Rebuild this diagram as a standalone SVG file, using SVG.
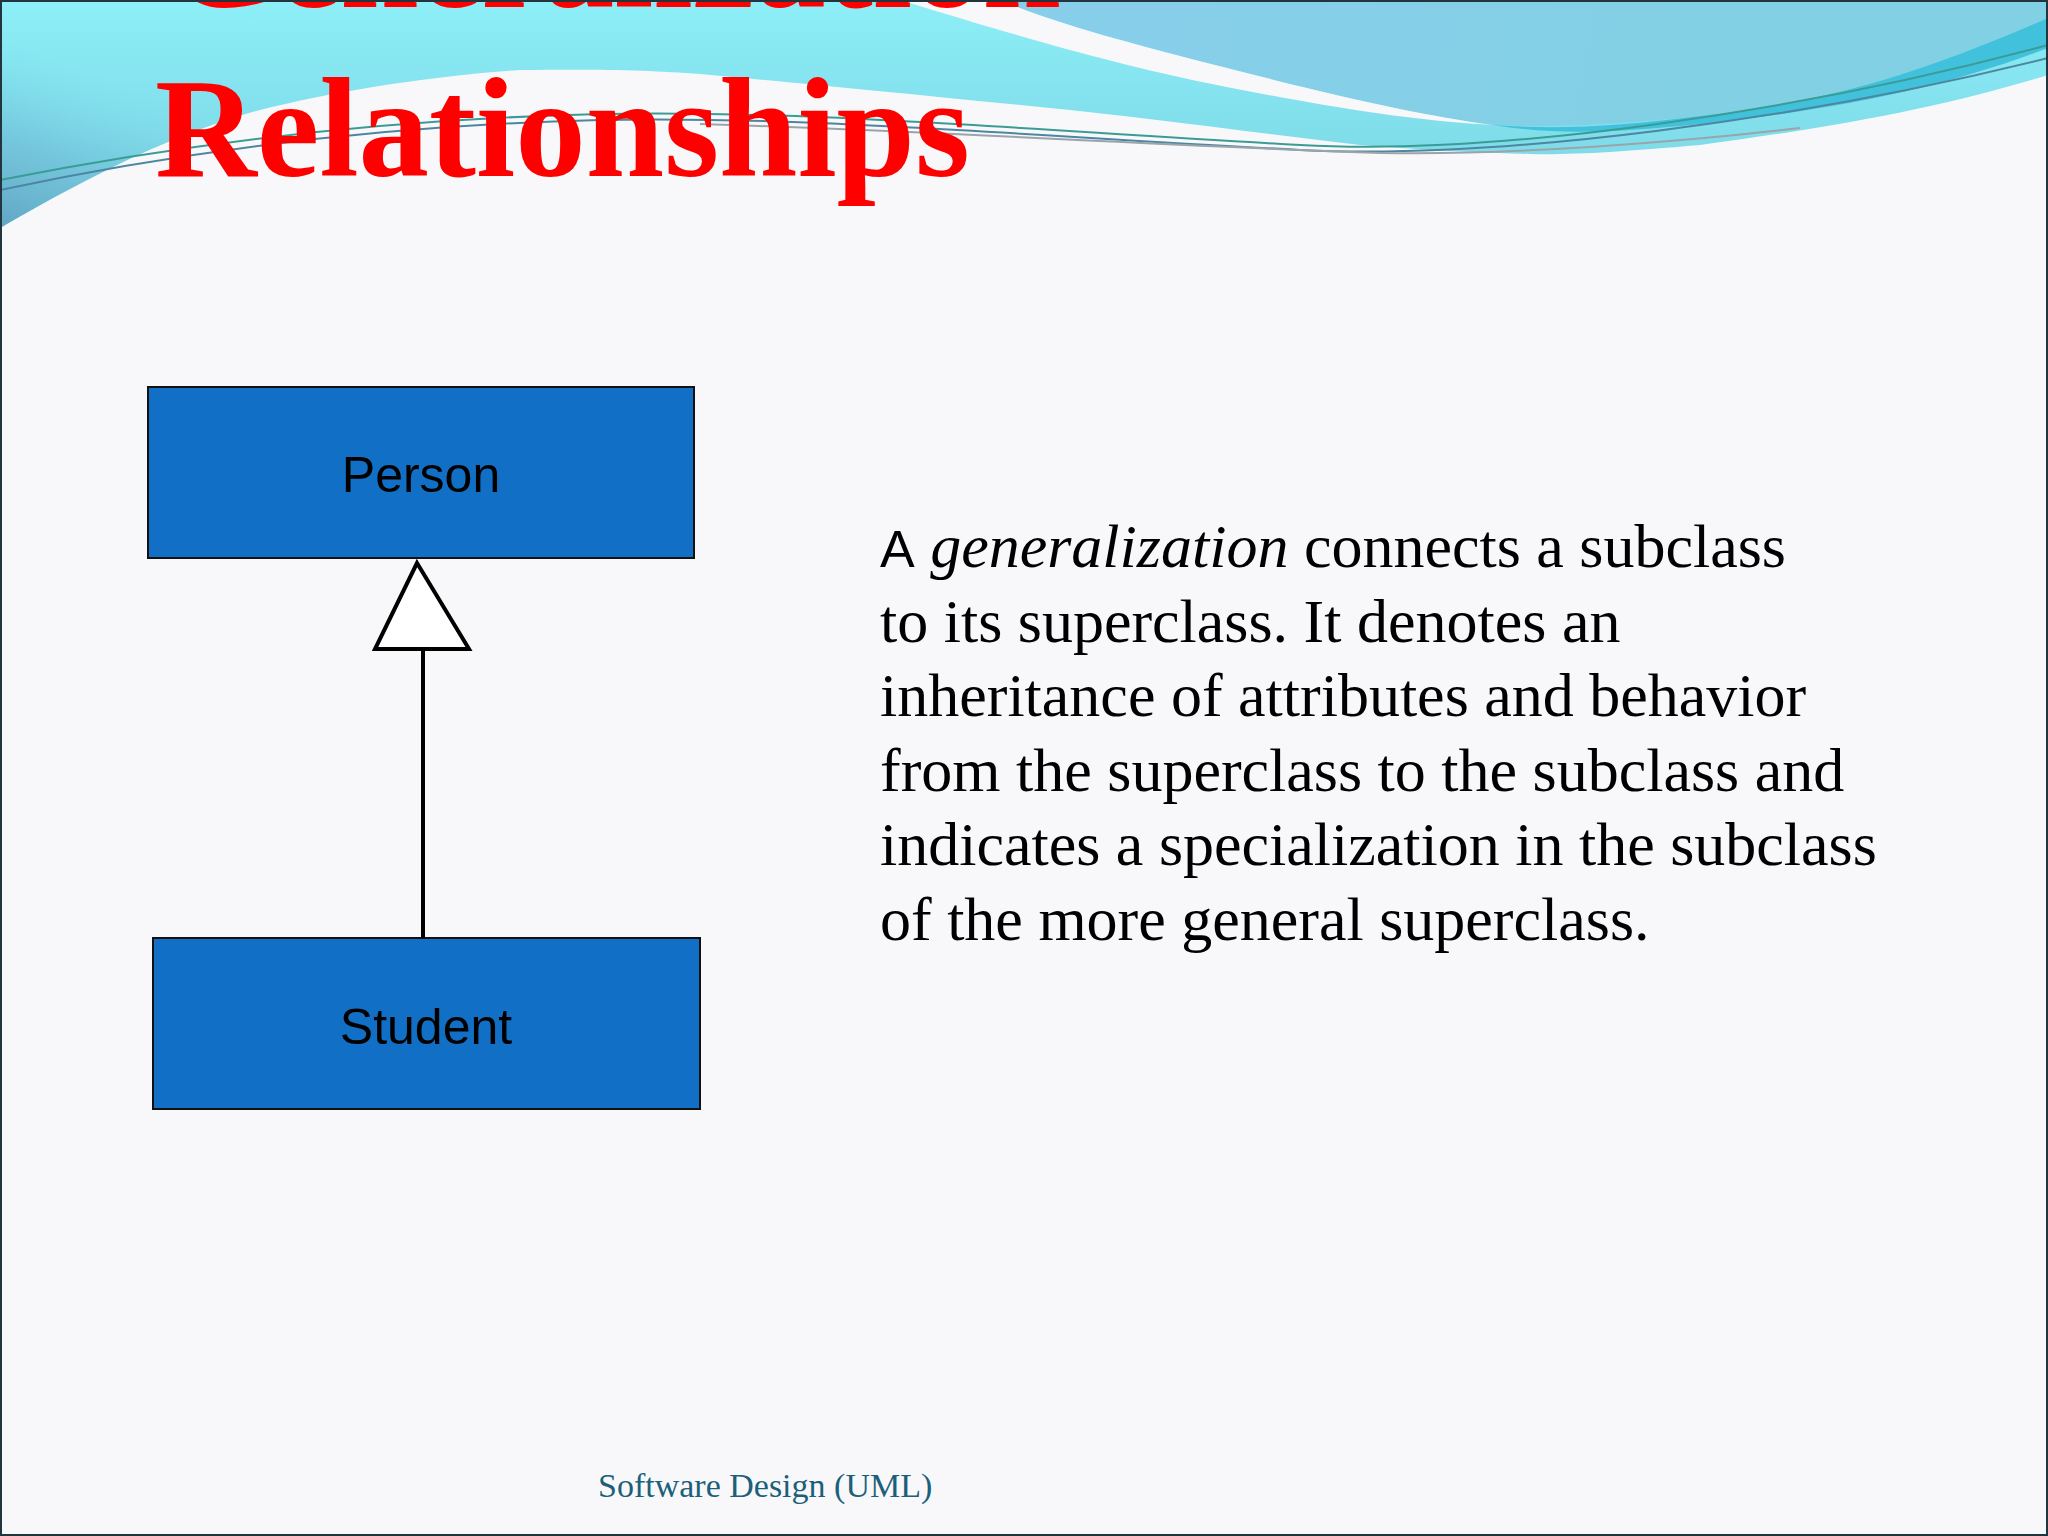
<svg xmlns="http://www.w3.org/2000/svg" width="2048" height="1536" viewBox="0 0 2048 1536">
  <defs>
    <linearGradient id="cyanG" x1="0" y1="0" x2="0" y2="160" gradientUnits="userSpaceOnUse">
      <stop offset="0" stop-color="#8DEFF7"/>
      <stop offset="1" stop-color="#7EDAE8"/>
    </linearGradient>
    <linearGradient id="leftG" x1="60" y1="60" x2="0" y2="225" gradientUnits="userSpaceOnUse">
      <stop offset="0" stop-color="#7EDCEA" stop-opacity="0"/>
      <stop offset="0.5" stop-color="#73C3DA" stop-opacity="0.8"/>
      <stop offset="1" stop-color="#62A7C5" stop-opacity="1"/>
    </linearGradient>
    <linearGradient id="blueG" x1="1000" y1="0" x2="1700" y2="130" gradientUnits="userSpaceOnUse">
      <stop offset="0" stop-color="#88CEEB"/>
      <stop offset="1" stop-color="#82D0E4"/>
    </linearGradient>
    <style>
      .box { fill: #116FC5; stroke: #111111; stroke-width: 2; }
      .lbl { font-family: "Liberation Sans", Arial, sans-serif; font-size: 50px; fill: #000000; text-anchor: middle; }
      .title { font-family: "Liberation Serif", "Times New Roman", serif; font-weight: bold; font-size: 141px; fill: #FF0000; }
      .body { font-family: "Liberation Serif", "Times New Roman", serif; font-size: 62px; fill: #000000; }
      .edge { stroke: #000000; stroke-width: 4; fill: none; }
      .head { stroke: #000000; stroke-width: 4; fill: #FFFFFF; stroke-linejoin: miter; }
      .wire { fill: none; stroke-width: 2; }
    </style>
  </defs>

  <!-- page -->
  <rect x="0" y="0" width="2048" height="1536" fill="#F8F8FA"/>

  <!-- header waves -->
  <g id="header">
    <path d="M0,0 H2048 V75 C1950,105 1850,125 1700,145 C1620,152 1570,155 1530,154 C1450,152 1400,148 1360,145 C1250,132 1150,118 1040,107 C900,93 800,83 700,74 C650,70 600,69 520,70 C430,76 330,92 260,110 C180,132 100,170 0,228 Z" fill="url(#cyanG)"/>
    <path d="M0,0 H520 V70 C430,76 330,92 260,110 C180,132 100,170 0,228 Z" fill="url(#leftG)"/>
    <path d="M1000,0 H2048 V18 C1950,60 1850,100 1700,116 C1620,124 1560,128 1493,125 C1420,115 1340,97 1207,63 C1120,40 1060,25 1000,0 Z" fill="url(#blueG)"/>
    <path d="M900,0 H1000 C1060,25 1120,40 1207,63 C1340,97 1420,115 1493,125 C1420,121 1340,110 1207,83 C1120,65 1040,43 900,0 Z" fill="#F8F8FA"/>
    <path d="M1493,125 C1560,130 1620,126 1700,116 C1850,100 1950,60 2048,18 V48 C1950,85 1850,108 1700,124 C1620,132 1560,136 1493,125 Z" fill="#41C1DB"/>
    <path class="wire" d="M0,180 C150,150 350,120 600,114 C800,110 1000,128 1300,145 C1500,156 1800,112 2048,45" stroke="#3A9C95"/>
    <path class="wire" d="M0,190 C150,158 350,126 600,120 C800,116 1000,134 1300,150 C1500,160 1800,120 2048,58" stroke="#4D86A0"/>
    <path class="wire" d="M700,124 C900,130 1100,142 1350,152 C1500,158 1700,140 1800,128" stroke="#9AA4AA" stroke-width="1.5"/>
  </g>

  <!-- title -->
  <g id="title">
    <text class="title" x="168" y="7">Generalization</text>
    <text class="title" x="155" y="176">Relationships</text>
  </g>

  <!-- nodes -->
  <g id="node-person">
    <rect class="box" x="148" y="387" width="546" height="171"/>
    <text class="lbl" x="421" y="492">Person</text>
  </g>
  <g id="node-student">
    <rect class="box" x="153" y="938" width="547" height="171"/>
    <text class="lbl" x="426" y="1044">Student</text>
  </g>

  <!-- connectors -->
  <g id="connectors">
    <line class="edge" x1="423" y1="649" x2="423" y2="938"/>
    <polygon class="head" points="417,563 469,649 375,649"/>
  </g>

  <!-- description -->
  <g id="description">
    <text class="body" x="880" y="567"><tspan font-family="'Liberation Sans', Arial, sans-serif" font-size="52">A</tspan> <tspan font-style="italic">generalization</tspan> connects a subclass</text>
    <text class="body" x="880" y="641.5">to its superclass. It denotes an</text>
    <text class="body" x="880" y="716">inheritance of attributes and behavior</text>
    <text class="body" x="880" y="790.5">from the superclass to the subclass and</text>
    <text class="body" x="880" y="865">indicates a specialization in the subclass</text>
    <text class="body" x="880" y="939.5">of the more general superclass.</text>
  </g>

  <!-- footer -->
  <text id="footer" x="598" y="1497" font-family="'Liberation Serif', 'Times New Roman', serif" font-size="34" fill="#1C5F7B">Software Design (UML)</text>

  <!-- slide border -->
  <rect x="1" y="1" width="2046" height="1534" fill="none" stroke="#22343E" stroke-width="2"/>
</svg>
